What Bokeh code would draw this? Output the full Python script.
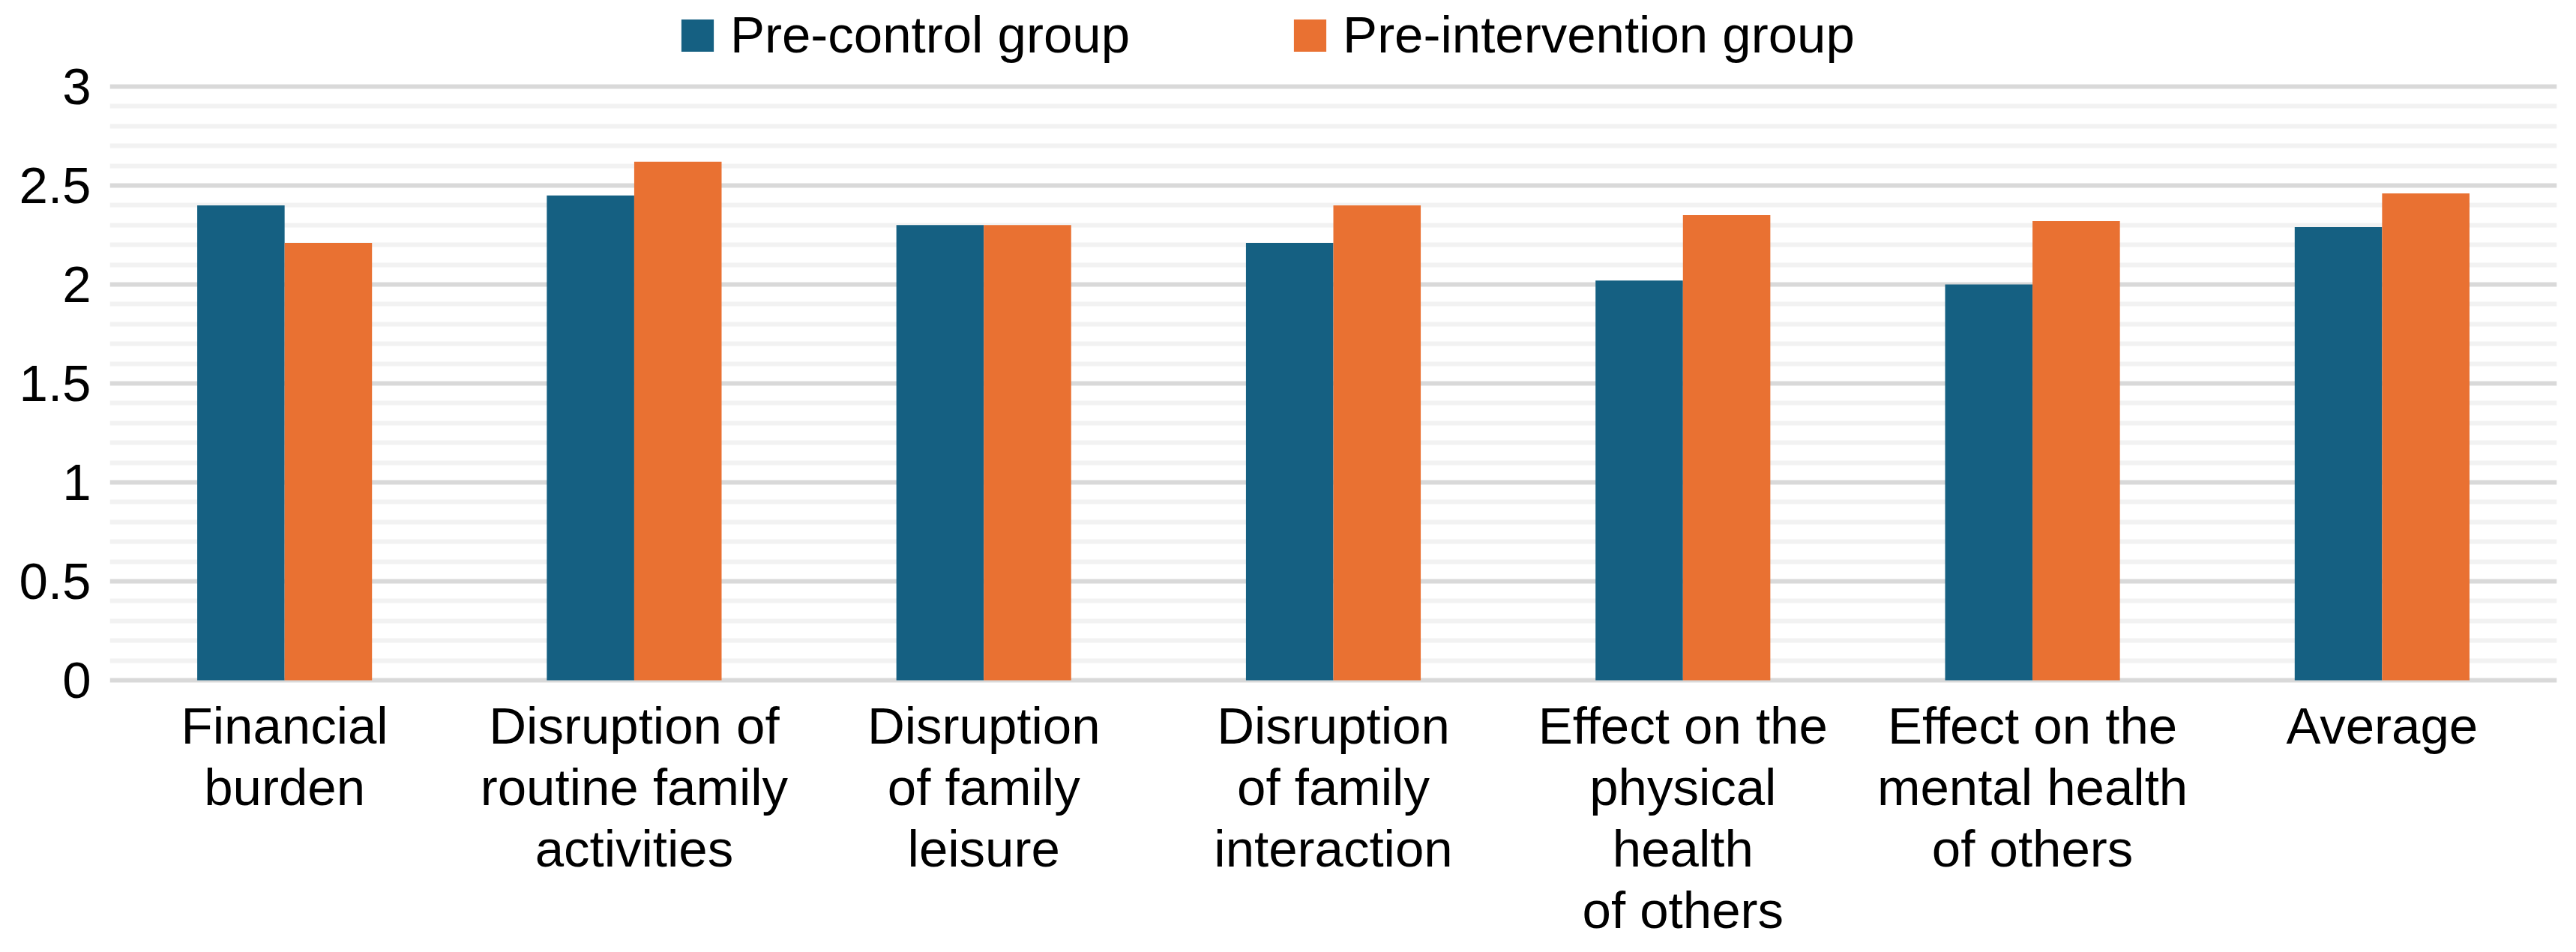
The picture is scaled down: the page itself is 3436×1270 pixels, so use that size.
from bokeh.plotting import figure
from bokeh.models import (FactorRange, Range1d, FixedTicker, Legend, LegendItem,
                          ColumnDataSource, NumeralTickFormatter, LabelSet)
from bokeh.core.properties import value
from bokeh.transform import dodge
from bokeh.embed import file_html
from bokeh.resources import INLINE

# ---- data ----
categories = [
    "Financial burden",
    "Disruption of routine family activities",
    "Disruption of family leisure",
    "Disruption of family interaction",
    "Effect on the physical health of others",
    "Effect on the mental health of others",
    "Average",
]
category_labels = [
    "Financial\nburden",
    "Disruption of\nroutine family\nactivities",
    "Disruption\nof family\nleisure",
    "Disruption\nof family\ninteraction",
    "Effect on the\nphysical\nhealth\nof others",
    "Effect on the\nmental health\nof others",
    "Average",
]
pre_control = [2.40, 2.45, 2.30, 2.21, 2.02, 2.00, 2.29]
pre_intervention = [2.21, 2.62, 2.30, 2.40, 2.35, 2.32, 2.46]
series_names = ["Pre-control group", "Pre-intervention group"]
series_colors = ["#156082", "#E97132"]
y_ticks = [0, 0.5, 1, 1.5, 2, 2.5, 3]
y_tick_labels = ["0", "0.5", "1", "1.5", "2", "2.5", "3"]

FONT = "Liberation Sans"
SIZE = "69px"

# ---- layout geometry (screen pixels) ----
W, H = 3420, 1254
LEFT, RIGHT = 146, 10
TOP_PX, ZERO_PX = 115, 907           # screen y of value 3 and of value 0
PPU = (ZERO_PX - TOP_PX) / 3.0       # pixels per unit
y_start = -(H - ZERO_PX) / PPU
y_end = 3 + TOP_PX / PPU

source = ColumnDataSource(dict(cat=categories, a=pre_control, b=pre_intervention))

p = figure(
    width=W, height=H,
    x_range=FactorRange(factors=categories),
    y_range=Range1d(y_start, y_end),
    output_backend="svg", toolbar_location=None,
    x_axis_location=None,
    min_border_left=LEFT, min_border_right=RIGHT,
    min_border_top=0, min_border_bottom=0,
)
p.outline_line_color = None
p.background_fill_color = "white"
p.border_fill_color = "white"

r1 = p.vbar(x=dodge("cat", -0.125, range=p.x_range), top="a", width=0.25,
            source=source, fill_color=series_colors[0], line_color=None)
r2 = p.vbar(x=dodge("cat", 0.125, range=p.x_range), top="b", width=0.25,
            source=source, fill_color=series_colors[1], line_color=None)

# grids: major every 0.5, minor every 0.1, only between 0 and 3
minor = [round(i * 0.1, 1) for i in range(31) if i % 5 != 0]
p.xgrid.grid_line_color = None
p.ygrid.ticker = FixedTicker(ticks=y_ticks, minor_ticks=minor)
p.ygrid.grid_line_color = "#d9d9d9"
p.ygrid.grid_line_width = 6
p.ygrid.minor_grid_line_color = "#f2f2f2"
p.ygrid.minor_grid_line_width = 6

# y axis
p.yaxis.ticker = FixedTicker(ticks=y_ticks)
p.yaxis.formatter = NumeralTickFormatter(format="0.[0]")
p.yaxis.major_label_overrides = dict(zip(y_ticks, y_tick_labels))
p.yaxis.axis_line_color = None
p.yaxis.major_tick_line_color = None
p.yaxis.minor_tick_line_color = None
p.yaxis.major_tick_out = 0
p.yaxis.major_tick_in = 0
p.yaxis.minor_tick_out = 0
p.yaxis.major_label_text_font = FONT
p.yaxis.major_label_text_font_size = SIZE
p.yaxis.major_label_text_color = "black"
p.yaxis.major_label_standoff = 25

# category labels (wrapped, one row per text line, centred under each group)
FIRST_BASELINE, LINE_STEP = 84, 82
lab_x, lab_text, lab_off = [], [], []
for cat, lbl in zip(categories, category_labels):
    for j, line in enumerate(lbl.split("\n")):
        lab_x.append(cat)
        lab_text.append(line)
        lab_off.append(-(FIRST_BASELINE + LINE_STEP * j))
lab_src = ColumnDataSource(dict(x=lab_x, y=[0] * len(lab_x), text=lab_text, off=lab_off))
p.add_layout(LabelSet(x="x", y="y", text="text", y_offset="off", source=lab_src,
                      text_align="center", text_baseline="alphabetic",
                      text_font=value(FONT), text_font_size=value(SIZE),
                      text_color="black"))

# legend at top (legend glyph box is inset 10% by Bokeh, so box = 54 -> 43 filled)
GLYPH = 54
legend = Legend(
    items=[LegendItem(label=series_names[0], renderers=[r1]),
           LegendItem(label=series_names[1], renderers=[r2])],
    orientation="horizontal",
    location=(903 - LEFT, H - 86),
    glyph_width=GLYPH, glyph_height=GLYPH,
    label_standoff=17, spacing=213,
    padding=0, margin=0,
    border_line_color=None, background_fill_alpha=0,
    label_text_font=FONT, label_text_font_size=SIZE, label_text_color="black",
)
p.add_layout(legend, "center")

open("out.html", "w").write(file_html(p, INLINE))
